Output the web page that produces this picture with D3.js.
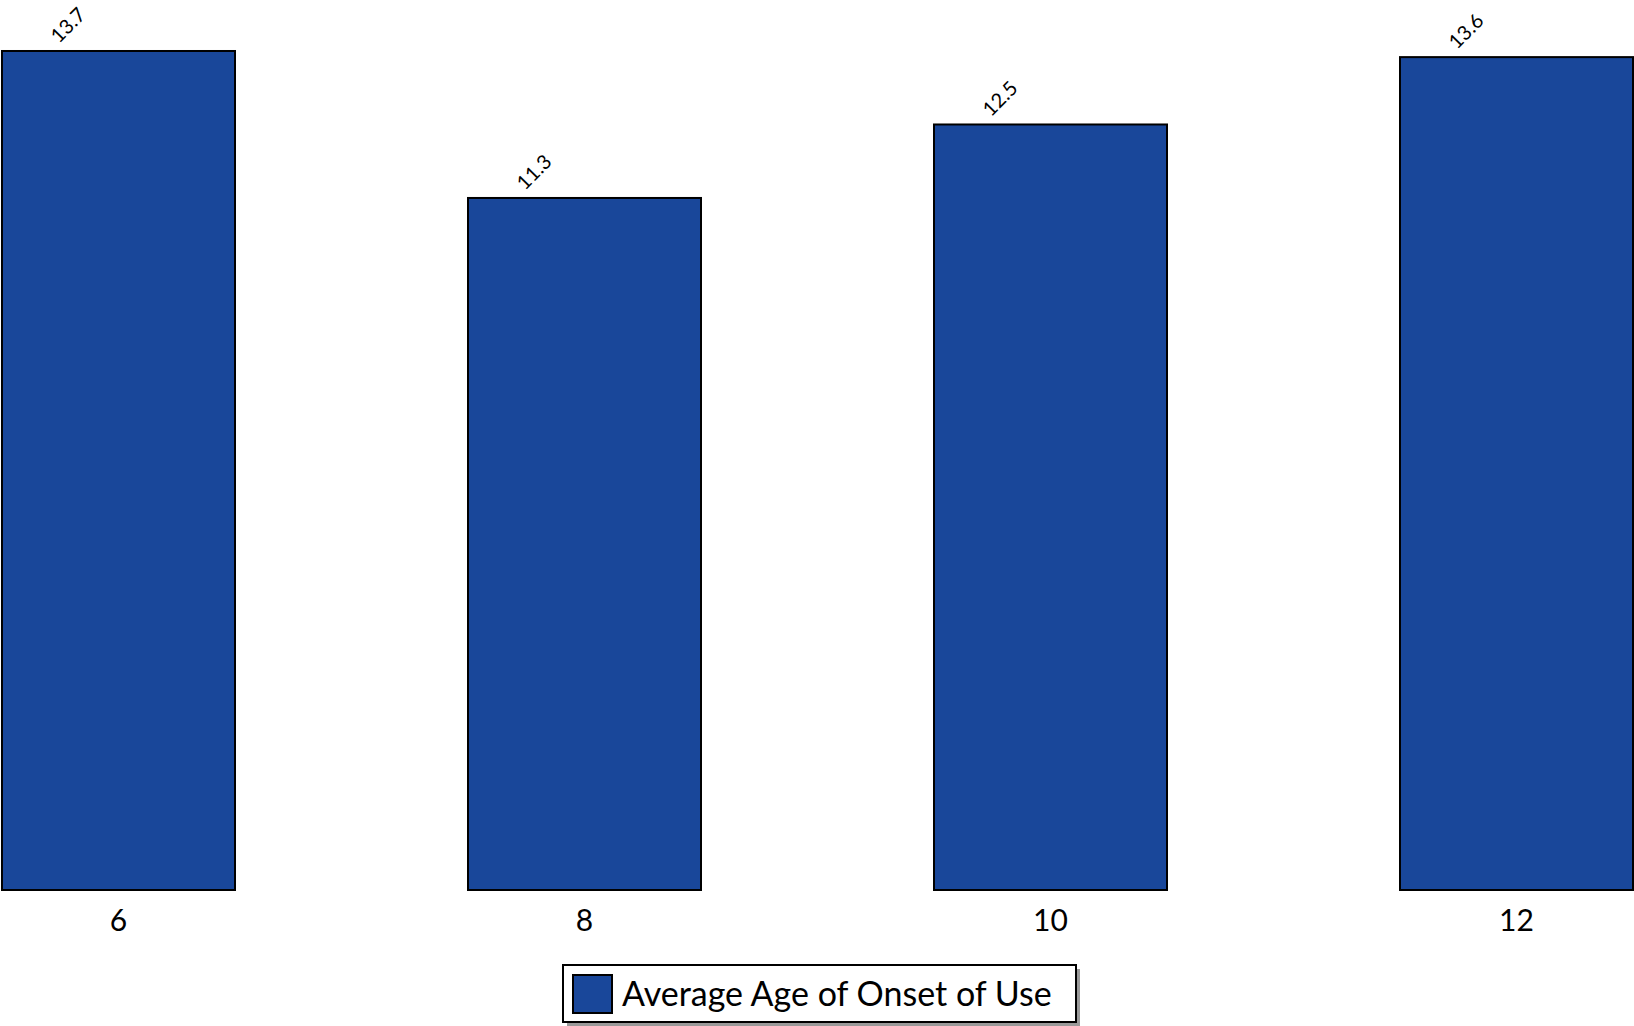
<!DOCTYPE html>
<html>
<head>
<meta charset="utf-8">
<script src="https://cdn.jsdelivr.net/npm/d3@7"></script>
<style>
  html, body { margin: 0; padding: 0; background: #fff; }
  svg { display: block; font-family: Lato, "Noto Sans", sans-serif; }
</style>
</head>
<body>
<svg id="chart" width="1634" height="1026"></svg>
<script>
const categories = ["6", "8", "10", "12"];
const values = [13.7, 11.3, 12.5, 13.6];
const seriesName = "Average Age of Onset of Use";

const W = 1634, H = 1026;
const barColor = "#19479a";
const svg = d3.select("#chart");

const x = d3.scaleBand().domain(categories).range([2, 1633]).paddingInner(0.5).paddingOuter(0);
const y = d3.scaleLinear().domain([0, 14.5]).range([890, 2]);

const data = categories.map((c, i) => ({ c, v: values[i] }));

svg.append("g").selectAll("rect").data(data).join("rect")
  .attr("x", d => x(d.c))
  .attr("y", d => y(d.v))
  .attr("width", x.bandwidth())
  .attr("height", d => y(0) - y(d.v))
  .attr("fill", barColor)
  .attr("stroke", "#000")
  .attr("stroke-width", 2);

svg.append("g").selectAll("text").data(data).join("text")
  .attr("transform", d => `translate(${x(d.c) + 57},${y(d.v) - 7}) rotate(-45)`)
  .attr("font-size", 20)
  .attr("fill", "#000")
  .text(d => d.v.toFixed(1));

const axis = svg.append("g")
  .attr("transform", `translate(0,${y(0)})`)
  .call(d3.axisBottom(x).tickSize(0).tickPadding(20));
axis.select(".domain").remove();
axis.selectAll("text").attr("font-size", 30).attr("fill", "#000").style("font-family", "Lato, 'Noto Sans', sans-serif");

// legend
const lg = svg.append("g");
lg.append("rect").attr("x", 567).attr("y", 969).attr("width", 513).attr("height", 57).attr("fill", "#9a9a9a");
lg.append("rect").attr("x", 563).attr("y", 965).attr("width", 513).attr("height", 57)
  .attr("fill", "#fff").attr("stroke", "#000").attr("stroke-width", 2);
lg.append("rect").attr("x", 573).attr("y", 975).attr("width", 39).attr("height", 38)
  .attr("fill", barColor).attr("stroke", "#000").attr("stroke-width", 2);
lg.append("text").attr("x", 622).attr("y", 1006).attr("font-size", 34).attr("fill", "#000").text(seriesName);
</script>
</body>
</html>
